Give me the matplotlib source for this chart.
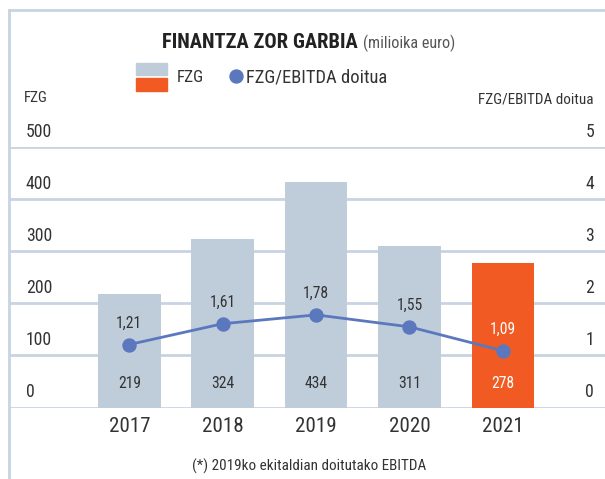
import matplotlib
matplotlib.use("Agg")
import matplotlib.pyplot as plt
from matplotlib import font_manager
from matplotlib.patches import Rectangle
from matplotlib.lines import Line2D

# ---- data ----
years = ["2017", "2018", "2019", "2020", "2021"]
fzg = [219, 324, 434, 311, 278]
ratio = [1.21, 1.61, 1.78, 1.55, 1.09]
ratio_labels = ["1,21", "1,61", "1,78", "1,55", "1,09"]
left_ticks = [0, 100, 200, 300, 400, 500]
right_ticks = [0, 1, 2, 3, 4, 5]

names = {f.name for f in font_manager.fontManager.ttflist}
FONT = "DejaVu Sans"
for cand in ["Liberation Sans Narrow", "Roboto Condensed", "Open Sans Condensed", "Roboto", "Liberation Sans"]:
    if cand in names:
        FONT = cand
        break
plt.rcParams["font.family"] = [FONT, "DejaVu Sans"]

GRAY = "#bfcddb"
ORANGE = "#f15a22"
BLUE = "#5b78be"
GRID = "#c8d4e1"
TXT = "#333333"

W, H = 605, 479
fig = plt.figure(figsize=(W / 100, H / 100), dpi=100)
renderer = fig.canvas.get_renderer()


def fx(px):
    return px / W


def fy(py):
    return 1 - py / H


def fit(t, target_w, boost=1.0):
    w = t.get_window_extent(renderer).width
    t.set_fontsize(t.get_fontsize() * target_w / w * boost)
    return t.get_fontsize()


y0, y5 = 407.5, 147.3
ax = fig.add_axes([fx(8.5), fy(y0), fx(605 - 8.5), (y0 - y5) / H])
ax.set_xlim(-1.293, 5.093)
ax.set_ylim(0, 500)
for s in ax.spines.values():
    s.set_visible(False)
ax.set_xticks([])
ax.set_yticks([])
ax.patch.set_alpha(0)

for v in left_ticks:
    ax.axhline(v, color=GRID, lw=2, zorder=0)

x = list(range(len(years)))
colors = [GRAY] * (len(years) - 1) + [ORANGE]
ax.bar(x, fzg, width=0.672, color=colors, zorder=2)

ax2 = ax.twinx()
ax2.set_ylim(0, 5)
for s in ax2.spines.values():
    s.set_visible(False)
ax2.set_xticks([])
ax2.set_yticks([])
ax2.plot(x, ratio, color=BLUE, lw=2, marker="o", ms=13 * 0.72, zorder=3)

# sizes fitted to reference widths
probe = fig.text(0, 0, "219", fontsize=10)
val_fs = fit(probe, 20, 1.15)
probe.set_text("1,21"); probe.set_fontsize(10)
rat_fs = fit(probe, 24, 1.08)
probe.set_text("2017"); probe.set_fontsize(10)
year_fs = fit(probe, 38, 1.08)
probe.set_text("500"); probe.set_fontsize(10)
tick_fs = fit(probe, 24, 1.08)
probe.remove()

PT = 0.72  # points per pixel at 100 dpi

for i, (v, r, rl) in enumerate(zip(fzg, ratio, ratio_labels)):
    c = "white" if i == len(years) - 1 else TXT
    ax.annotate(str(v), xy=(i, 0), xycoords="data", xytext=(0, 23.5 * PT),
                textcoords="offset points", ha="center", va="center",
                fontsize=val_fs, color=c, zorder=5)
    ax2.annotate(rl, xy=(i, r), xycoords="data", xytext=(0, 21.5 * PT),
                 textcoords="offset points", ha="center", va="center",
                 fontsize=rat_fs, color=c, zorder=5)
    ax.annotate(years[i], xy=(i, 0), xycoords="data", xytext=(0, -18.5 * PT),
                textcoords="offset points", ha="center", va="center",
                fontsize=year_fs, color=TXT)

for v in left_ticks:
    ax.annotate(str(v), xy=((26 - 8.5) / 596.5, v), xycoords=("axes fraction", "data"),
                xytext=(0, 15.6 * PT), textcoords="offset points",
                ha="left", va="center", fontsize=tick_fs, color=TXT)
for v in right_ticks:
    ax2.annotate(str(v), xy=((594 - 8.5) / 596.5, v), xycoords=("axes fraction", "data"),
                 xytext=(0, 15.6 * PT), textcoords="offset points",
                 ha="right", va="center", fontsize=tick_fs, color=TXT)

# frame
fig.add_artist(Line2D([fx(8.5), fx(8.5)], [fy(10), fy(479)], color=GRID, lw=2))
fig.add_artist(Line2D([fx(8.5), 1], [fy(10), fy(10)], color=GRID, lw=2))

# title
t = fig.text(fx(162.3), fy(42.3), "FINANTZA ZOR GARBIA", fontsize=12, fontweight="bold",
             color="#222222", ha="left", va="center")
fit(t, 196)
t2 = fig.text(fx(362.7), fy(43.5), "(milioika euro)", fontsize=10, color="#555555",
              ha="left", va="center")
fit(t2, 92)

# legend
fig.add_artist(Rectangle((fx(136), fy(75)), fx(31), 12 / H, color=GRAY,
                         transform=fig.transFigure))
fig.add_artist(Rectangle((fx(136), fy(91)), fx(31), 13 / H, color=ORANGE,
                         transform=fig.transFigure))
l1 = fig.text(fx(176.7), fy(77.7), "FZG", fontsize=10, color=TXT, ha="left", va="center")
fit(l1, 27.3)
fig.add_artist(Line2D([fx(236)], [fy(75.5)], marker="o", ms=13 * PT, color=BLUE, lw=0))
l2 = fig.text(fx(246), fy(77.7), "FZG/EBITDA doitua", fontsize=10, color=TXT,
              ha="left", va="center")
fit(l2, 141)

# axis titles
a1 = fig.text(fx(24), fy(98), "FZG", fontsize=10, color=TXT, ha="left", va="center")
fit(a1, 24)
a2 = fig.text(fx(593), fy(99), "FZG/EBITDA doitua", fontsize=10, color=TXT,
              ha="right", va="center")
fit(a2, 115)

# footnote
fn = fig.text(fx(309.2), fy(466), "(*) 2019ko ekitaldian doitutako EBITDA", fontsize=10,
              color=TXT, ha="center", va="center")
fit(fn, 232)

fig.savefig("out.png", dpi=100)
